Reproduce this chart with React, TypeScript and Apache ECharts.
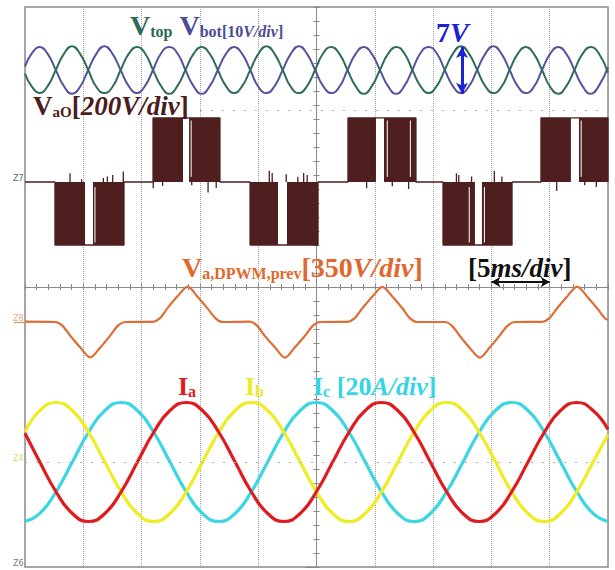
import React, { useEffect, useRef } from 'react';
import * as echarts from 'echarts';

const SERIF = '"Liberation Serif", "Times New Roman", serif';

// ---------------- data (time in ms, 5 ms/div, 0..50 ms across the screen) ----------------

// V_top / V_bot [V], 10 V/div
const vTimes = [
  0, 0.555,
  1.25, 1.945, 2.64, 3.335, 4.03, 4.725, 5.42, 6.115,
  6.81, 7.505, 8.2, 8.895, 9.59, 10.285, 10.98, 11.675,
  12.37, 13.065, 13.76, 14.455, 15.15, 15.845, 16.54, 17.235,
  17.93, 18.625, 19.32, 20.015, 20.71, 21.405, 22.1, 22.795,
  23.49, 24.185, 24.88, 25.575, 26.27, 26.965, 27.66, 28.355,
  29.05, 29.745, 30.44, 31.135, 31.83, 32.525, 33.22, 33.915,
  34.61, 35.305, 36.0, 36.695, 37.39, 38.085, 38.78, 39.475,
  40.17, 40.865, 41.56, 42.255, 42.95, 43.645, 44.34, 45.035,
  45.73, 46.425, 47.12, 47.815, 48.51, 49.205,
  50,
];
const vBot = [
  0.5, 2.3,
  3.3, 2.3, 0, -2.3, -3.4, -2.4, 0, 2.3,
  3.4, 2.3, 0, -2.3, -3.3, -2.3, 0, 2.4,
  3.3, 2.4, 0, -2.3, -3.4, -2.3, 0, 2.3,
  3.3, 2.3, 0, -2.4, -3.3, -2.3, 0, 2.3,
  3.4, 2.3, 0, -2.3, -3.3, -2.4, 0, 2.3,
  3.3, 2.3, 0, -2.3, -3.4, -2.3, 0, 2.4,
  3.3, 2.4, 0, -2.3, -3.3, -2.3, 0, 2.3,
  3.4, 2.3, 0, -2.3, -3.3, -2.4, 0, 2.3,
  3.3, 2.3, 0, -2.3, -3.4, -2.3,
  0.4,
];
const vTop = [
  -0.5, -2.3,
  -3.3, -2.3, 0, 2.3, 3.4, 2.3, 0, -2.4,
  -3.3, -2.4, 0, 2.3, 3.3, 2.4, 0, -2.3,
  -3.4, -2.3, 0, 2.3, 3.3, 2.3, 0, -2.3,
  -3.3, -2.3, 0, 2.3, 3.4, 2.3, 0, -2.4,
  -3.3, -2.3, 0, 2.4, 3.3, 2.3, 0, -2.3,
  -3.4, -2.3, 0, 2.3, 3.3, 2.4, 0, -2.3,
  -3.3, -2.3, 0, 2.3, 3.4, 2.3, 0, -2.3,
  -3.3, -2.4, 0, 2.3, 3.3, 2.3, 0, -2.4,
  -3.4, -2.3, 0, 2.3, 3.3, 2.4,
  -0.4,
];

// V_a,DPWM,prev [V], 350 V/div : [time, value]
const dpwm: [number, number][] = [
  [0, 2],
  [2.6, 0], [3.2, -18], [3.9, -70], [4.75, -128], [5.6, -177], [6.45, -128], [7.3, -68], [8.0, -17], [8.6, 0],
  [10.95, 1], [11.55, 18], [12.25, 72], [13.1, 130], [13.95, 177], [14.8, 126], [15.65, 68], [16.35, 18], [16.95, 0],
  [19.3, 2], [19.9, -18], [20.6, -72], [21.45, -128], [22.3, -178], [23.15, -126], [24.0, -70], [24.7, -18], [25.3, 0],
  [27.65, 1], [28.25, 18], [28.95, 70], [29.8, 128], [30.65, 176], [31.5, 128], [32.35, 70], [33.05, 17], [33.65, 0],
  [36.0, 0], [36.6, -18], [37.3, -70], [38.15, -130], [39.0, -178], [39.85, -128], [40.7, -68], [41.4, -18], [42.0, 0],
  [44.35, 1], [44.95, 18], [45.65, 70], [46.5, 128], [47.35, 177], [48.2, 128], [49.05, 70], [49.75, 18],
  [50, 12],
];

// V_aO [V], 200 V/div : switching blocks [start, end, level]
const vaoBlocks: [number, number, number][] = [
  [2.57, 5.15, -180], [5.83, 8.49, -180],
  [10.98, 13.55, 183], [14.07, 16.72, 183],
  [19.3, 21.7, -180], [22.47, 25.13, -180],
  [27.7, 30.1, 183], [30.79, 33.53, 183],
  [35.85, 38.59, -180], [39.19, 41.77, -180],
  [44.25, 46.82, 183], [47.51, 50.0, 183],
];
// short spikes at the zero level [time, peak value]
const vaoSpikes: [number, number][] = [
  [3.86, 25], [4.86, 8], [6.72, 12], [7.06, 16], [7.52, 20], [8.43, 30],
  [11.0, -18], [11.8, -11], [14.3, -9], [15.7, -30], [16.4, -17],
  [20.95, 32], [21.2, 26], [22.4, 22], [23.4, 15], [23.9, 26], [24.2, 20],
  [29.3, -18], [31.5, -12], [32.9, -20],
  [37.0, 25], [37.2, 20], [38.3, 16], [40.25, 32], [40.9, 16],
  [45.6, -26], [48.0, -9], [49.0, -14],
];
// thin white lines inside the blocks [time, level]
const vaoNotches: [number, number][] = [
  [6.0, -180], [14.25, 183], [31.07, 183], [33.05, 183], [38.1, -180], [39.4, -180], [47.7, 183],
];

// phase currents [A], 20 A/div
const iTimes = [
  0, 1.27, 2.66, 4.06, 5.45, 6.85, 8.25, 9.64, 11.04, 12.43,
  13.83, 15.22, 16.62, 18.02, 19.41, 20.81, 22.2, 23.6, 24.99, 26.39,
  27.79, 29.18, 30.58, 31.97, 33.37, 34.76, 36.16, 37.56, 38.95, 40.35,
  41.74, 43.14, 44.54, 45.93, 47.33, 48.72, 50,
];
const iA = [
  8.2, 0, -8.5, -14.7, -17, -14.7, -8.5, 0, 8.5, 14.7,
  17, 14.7, 8.5, 0, -8.5, -14.7, -17, -14.7, -8.5, 0,
  8.5, 14.7, 17, 14.7, 8.5, 0, -8.5, -14.7, -17, -14.7,
  -8.5, 0, 8.5, 14.7, 17, 14.7, 9.3,
];
const iB = [
  8.6, 14.7, 17, 14.7, 8.5, 0, -8.5, -14.7, -17, -14.7,
  -8.5, 0, 8.5, 14.7, 17, 14.7, 8.5, 0, -8.5, -14.7,
  -17, -14.7, -8.5, 0, 8.5, 14.7, 17, 14.7, 8.5, 0,
  -8.5, -14.7, -17, -14.7, -8.5, 0, 7.8,
];
const iC = [
  -17, -14.7, -8.5, 0, 8.5, 14.7, 17, 14.7, 8.5, 0,
  -8.5, -14.7, -17, -14.7, -8.5, 0, 8.5, 14.7, 17, 14.7,
  8.5, 0, -8.5, -14.7, -17, -14.7, -8.5, 0, 8.5, 14.7,
  17, 14.7, 8.5, 0, -8.5, -14.7, -17,
];

// annotations
const sevenV = { t: 37.48, top: 3.3, bottom: -3.4 };
const timeDiv = { from: 40, to: 45, level: 200 };
const vaoCursor = { from: 15, to: 50, level: 206 };

// ---------------- option ----------------
const zip = (ts: number[], vs: number[]) => ts.map((t, i) => [t, vs[i]]);

function buildVaoTrace() {
  const out: number[][] = [[0, 0]];
  for (let i = 0; i < vaoBlocks.length; i += 2) {
    const a = vaoBlocks[i];
    const b = vaoBlocks[i + 1];
    out.push([a[0], 0], [a[0], a[2]], [b[1], b[2]], [b[1], 0]);
  }
  return out;
}

const tok = (size: number, color: string, italic = false) => ({
  fontFamily: SERIF,
  fontSize: size,
  fontWeight: 'bold',
  fontStyle: italic ? 'italic' : 'normal',
  fill: color,
  color,
  lineHeight: size,
  verticalAlign: 'bottom',
});

const GRID = '#a3a3a3';
const AXIS = '#8a8a8a';

const centerX = (inside: boolean) => ({
  type: 'value', min: -5, max: 5, interval: 1, position: 'bottom',
  axisLine: { show: true, onZero: true, onZeroAxisIndex: 0, lineStyle: { color: AXIS, width: 1 } },
  axisTick: { show: true, inside, length: 3, lineStyle: { color: AXIS } },
  minorTick: { show: true, splitNumber: 5, length: 3, lineStyle: { color: AXIS } },
  axisLabel: { show: false }, splitLine: { show: false },
});
const centerY = (inside: boolean) => ({
  type: 'value', min: -4, max: 4, interval: 1, position: 'left',
  axisLine: { show: true, onZero: true, onZeroAxisIndex: 0, lineStyle: { color: AXIS, width: 1 } },
  axisTick: { show: true, inside, length: 3, lineStyle: { color: AXIS } },
  minorTick: { show: true, splitNumber: 5, length: 3, lineStyle: { color: AXIS } },
  axisLabel: { show: false }, splitLine: { show: false },
});
const markerAxis = (min: number, max: number, value: number, name: string, color: string, tickColor: string, tickLen: number) => ({
  type: 'value', min, max, position: 'left',
  axisLine: { show: false },
  splitLine: { show: false },
  axisTick: { show: tickLen > 0, customValues: [value], length: tickLen, lineStyle: { color: tickColor, width: 1 } },
  axisLabel: {
    show: true, customValues: [value], formatter: () => name,
    color, fontSize: 8, fontFamily: 'DejaVu Sans', align: 'left', verticalAlign: 'bottom', margin: 12,
  },
});

function buildOption(): any {
  const lineBase = { type: 'line', xAxisIndex: 3, showSymbol: false, symbol: 'none', silent: true };
  return {
    animation: false,
    backgroundColor: '#ffffff',
    grid: {
      left: 25, right: 7, top: 7, bottom: 3, containLabel: false, outerBoundsMode: 'none',
      show: true, borderColor: '#8a8a8a', borderWidth: 1.5, backgroundColor: '#ffffff',
    },
    xAxis: [
      {
        type: 'value', min: -5, max: 5, interval: 1,
        axisLine: { show: false }, axisTick: { show: false }, axisLabel: { show: false },
        splitLine: { show: true, lineStyle: { color: GRID, type: 'dotted', width: 1 } },
      },
      centerX(true),
      centerX(false),
      { type: 'value', min: 0, max: 50, show: false },
    ],
    yAxis: [
      {
        type: 'value', min: -4, max: 4, interval: 1, position: 'left',
        axisLine: { show: false },
        axisTick: { show: true, customValues: [-4], length: 11, lineStyle: { color: '#8a8a8a' } },
        axisLabel: {
          show: true, customValues: [-4], formatter: () => 'Z6', color: '#7a7a7a', fontSize: 8,
          fontFamily: 'DejaVu Sans', align: 'left', verticalAlign: 'bottom', margin: 12,
        },
        splitLine: { show: true, lineStyle: { color: GRID, type: 'dotted', width: 1 } },
      },
      centerY(true),
      centerY(false),
      { type: 'value', min: -71, max: 9, show: false },
      markerAxis(-1100, 500, 0, 'Z7', '#666666', '#3a3a3a', 11),
      markerAxis(-1225, 1575, 0, 'Z8', '#eaa57e', '#e08b5c', 11),
      markerAxis(-30, 130, 0, 'Z4', '#c6df74', '#dfe9b0', 0),
    ],
    series: [
      { ...lineBase, name: 'Vbot', yAxisIndex: 3, smooth: 0.5, data: zip(vTimes, vBot), lineStyle: { color: '#55539f', width: 2 } },
      {
        ...lineBase, name: 'Vtop', yAxisIndex: 3, smooth: 0.5, data: zip(vTimes, vTop), lineStyle: { color: '#2f6c5b', width: 2 },
        markLine: {
          silent: true, symbol: ['arrow', 'arrow'], symbolSize: [9, 11], label: { show: false },
          lineStyle: { color: '#1b24d4', width: 3, type: 'solid' },
          data: [[{ coord: [sevenV.t, sevenV.top] }, { coord: [sevenV.t, sevenV.bottom] }]],
        },
      },
      {
        type: 'custom', name: 'VaO blocks', xAxisIndex: 3, yAxisIndex: 4, clip: true, silent: true,
        data: vaoBlocks, encode: { x: [0, 1], y: 2 },
        renderItem: (_p: any, api: any) => {
          const a = api.coord([api.value(0), api.value(2)]);
          const b = api.coord([api.value(1), 0]);
          return {
            type: 'rect',
            shape: { x: a[0], y: Math.min(a[1], b[1]), width: b[0] - a[0], height: Math.abs(b[1] - a[1]) },
            style: { fill: '#4f1e1e' },
          };
        },
      },
      {
        type: 'custom', name: 'VaO notches', xAxisIndex: 3, yAxisIndex: 4, clip: true, silent: true,
        data: vaoNotches, encode: { x: 0, y: 1 },
        renderItem: (_p: any, api: any) => {
          const a = api.coord([api.value(0), api.value(1) * 0.96]);
          const b = api.coord([api.value(0), api.value(1) * 0.08]);
          return { type: 'line', shape: { x1: a[0], y1: a[1], x2: b[0], y2: b[1] }, style: { stroke: '#ffffff', lineWidth: 1 } };
        },
      },
      {
        ...lineBase, name: 'VaO', yAxisIndex: 4, smooth: false, data: buildVaoTrace(),
        lineStyle: { color: '#4f1e1e', width: 1.3 },
        markLine: {
          silent: true, symbol: ['none', 'none'], label: { show: false },
          lineStyle: { color: '#b0b0b0', width: 1, type: [2, 9] },
          data: [[{ coord: [vaoCursor.from, vaoCursor.level] }, { coord: [vaoCursor.to, vaoCursor.level] }]],
        },
      },
      {
        type: 'custom', name: 'VaO spikes', xAxisIndex: 3, yAxisIndex: 4, clip: true, silent: true,
        data: vaoSpikes, encode: { x: 0, y: 1 },
        renderItem: (_p: any, api: any) => {
          const a = api.coord([api.value(0), 0]);
          const b = api.coord([api.value(0), api.value(1)]);
          return { type: 'line', shape: { x1: a[0], y1: a[1], x2: b[0], y2: b[1] }, style: { stroke: '#4f1e1e', lineWidth: 1.3 } };
        },
      },
      {
        ...lineBase, name: 'Va,DPWM,prev', yAxisIndex: 5, smooth: 0.3, data: dpwm,
        lineStyle: { color: '#df6d34', width: 2.2 },
        markLine: {
          silent: true, symbol: ['arrow', 'arrow'], symbolSize: [8, 9], label: { show: false },
          lineStyle: { color: '#111111', width: 2, type: 'solid' },
          data: [[{ coord: [timeDiv.from, timeDiv.level] }, { coord: [timeDiv.to, timeDiv.level] }]],
        },
      },
      { ...lineBase, name: 'Ic', yAxisIndex: 6, smooth: 0.5, data: zip(iTimes, iC), lineStyle: { color: '#3cd6e2', width: 3.2 } },
      { ...lineBase, name: 'Ib', yAxisIndex: 6, smooth: 0.5, data: zip(iTimes, iB), lineStyle: { color: '#efec22', width: 3.2 } },
      {
        ...lineBase, name: 'Ia', yAxisIndex: 6, smooth: 0.5, data: zip(iTimes, iA), lineStyle: { color: '#e01b1f', width: 3.2 },
        markLine: {
          silent: true, symbol: ['none', 'none'], label: { show: false },
          lineStyle: { color: '#b0b0b0', width: 1, type: [2, 9] },
          data: [{ yAxis: 0 }],
        },
      },
    ],
    graphic: [
      {
        type: 'text', x: 130, y: 39.5, z: 100, silent: true,
        style: {
          text: '{vg|V}{sg|top}{sp| }{vb|V}{sb|bot[10}{sbi|V/div}{sb|]}', align: 'left', verticalAlign: 'bottom',
          rich: {
            vg: tok(28, '#2b6a57'), sg: tok(16, '#2b6a57'), sp: tok(28, '#2b6a57'),
            vb: tok(28, '#4b4d96'), sb: tok(16, '#4b4d96'), sbi: tok(16, '#4b4d96', true),
          },
        },
      },
      {
        type: 'text', x: 436, y: 46.5, z: 100, silent: true,
        style: { text: '{a|7}{b|V}', align: 'left', verticalAlign: 'bottom', rich: { a: tok(28, '#1b22d2'), b: tok(28, '#1b22d2', true) } },
      },
      {
        type: 'text', x: 33, y: 119.5, z: 100, silent: true,
        style: {
          text: '{a|V}{s|aO}{a|[}{i|200V/div}{a|]}', align: 'left', verticalAlign: 'bottom',
          rich: { a: tok(27, '#4b1c1c'), s: tok(15, '#4b1c1c'), i: tok(27, '#4b1c1c', true) },
        },
      },
      {
        type: 'text', x: 182, y: 281.5, z: 100, silent: true,
        style: {
          text: '{a|V}{s|a,DPWM,prev}{a|[350}{i|V/div}{a|]}', align: 'left', verticalAlign: 'bottom',
          rich: { a: tok(28, '#e0682c'), s: tok(16, '#e0682c'), i: tok(28, '#e0682c', true) },
        },
      },
      {
        type: 'text', x: 468, y: 281, z: 100, silent: true,
        style: {
          text: '{a|[5}{i|ms/div}{a|]}', align: 'left', verticalAlign: 'bottom',
          rich: { a: tok(27, '#111111'), i: tok(27, '#111111', true) },
        },
      },
      {
        type: 'text', x: 178, y: 399, z: 100, silent: true,
        style: { text: '{a|I}{s|a}', align: 'left', verticalAlign: 'bottom', rich: { a: tok(26, '#e3191c'), s: tok(16, '#e3191c') } },
      },
      {
        type: 'text', x: 245, y: 399, z: 100, silent: true,
        style: { text: '{a|I}{s|b}', align: 'left', verticalAlign: 'bottom', rich: { a: tok(26, '#ecea26'), s: tok(16, '#ecea26') } },
      },
      {
        type: 'text', x: 313, y: 399, z: 100, silent: true,
        style: {
          text: '{a|I}{s|c}{a| [20}{i|A/div}{a|]}', align: 'left', verticalAlign: 'bottom',
          rich: { a: tok(26, '#33d5e6'), s: tok(16, '#33d5e6'), i: tok(26, '#33d5e6', true) },
        },
      },
    ],
  };
}

export default function App() {
  const ref = useRef<HTMLDivElement>(null);
  useEffect(() => {
    if (!ref.current) return;
    const chart = echarts.init(ref.current, null, { renderer: 'svg' });
    chart.setOption(buildOption());
    return () => chart.dispose();
  }, []);
  return (
    <div
      ref={ref}
      style={{ position: 'fixed', left: 0, top: 0, width: 615, height: 570, background: '#ffffff' }}
    />
  );
}
